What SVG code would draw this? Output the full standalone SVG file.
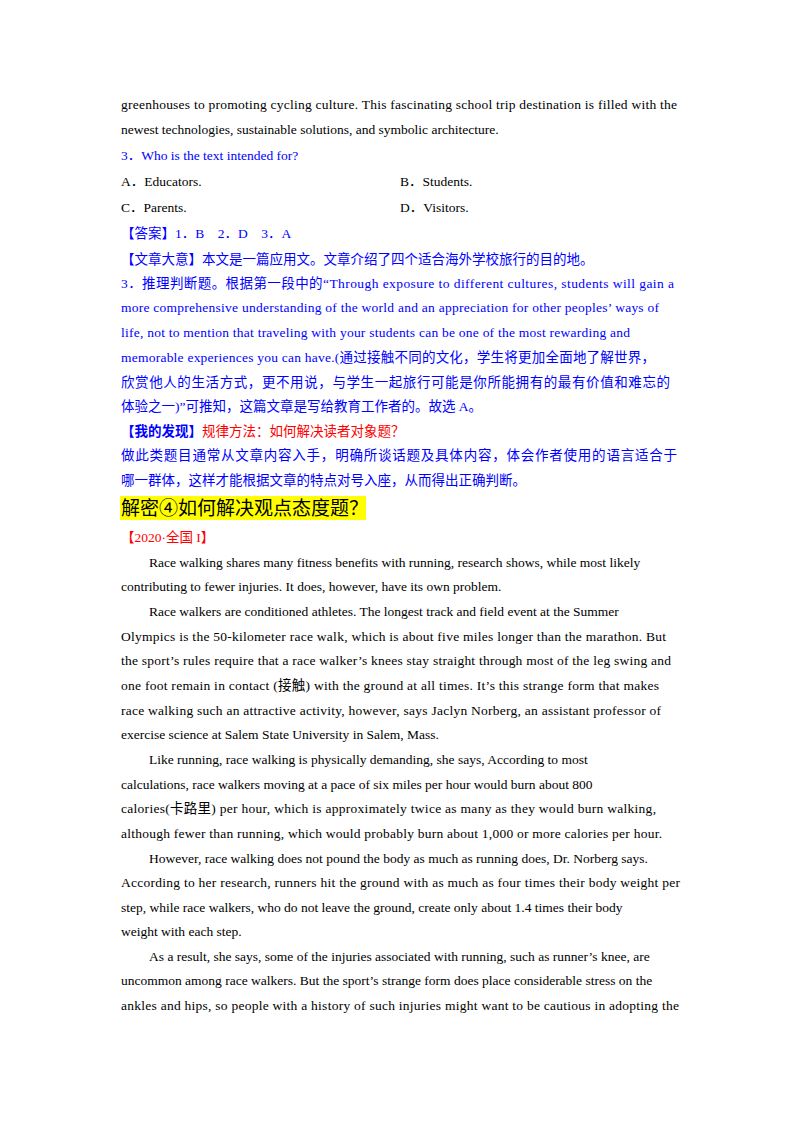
<svg xmlns="http://www.w3.org/2000/svg" width="800" height="1132" viewBox="0 0 800 1132">
<style>
text{font-family:"Liberation Serif","Noto Sans CJK SC",serif;font-size:13.5px;fill:#000}
.b{fill:#0000ff}.r{fill:#ff0000}.bb{font-weight:bold}
</style>
<rect width="800" height="1132" fill="#fff"/>
<g id="top">
<text x="121" y="109" textLength="556" lengthAdjust="spacing">greenhouses to promoting cycling culture. This fascinating school trip destination is filled with the</text>
<text x="121" y="134">newest technologies, sustainable solutions, and symbolic architecture.</text>
<text x="121" y="160" class="b">3．Who is the text intended for?</text>
<text x="121" y="186">A．Educators.</text>
<text x="400" y="186">B．Students.</text>
<text x="121" y="212">C．Parents.</text>
<text x="400" y="212">D．Visitors.</text>
</g>
<g id="answer">
<text x="121" y="238" class="b">【答案】1．B　2．D　3．A</text>
<text x="121" y="264" class="b">【文章大意】本文是一篇应用文。文章介绍了四个适合海外学校旅行的目的地。</text>
<text x="121" y="288" class="b" textLength="553" lengthAdjust="spacing">3．推理判断题。根据第一段中的“Through exposure to different cultures, students will gain a</text>
<text x="121" y="312" class="b" textLength="538" lengthAdjust="spacing">more comprehensive understanding of the world and an appreciation for other peoples’ ways of</text>
<text x="121" y="337" class="b" textLength="509" lengthAdjust="spacing">life, not to mention that traveling with your students can be one of the most rewarding and</text>
<text x="121" y="362" class="b" textLength="534" lengthAdjust="spacing">memorable experiences you can have.(通过接触不同的文化，学生将更加全面地了解世界，</text>
<text x="121" y="387" class="b" textLength="549" lengthAdjust="spacing">欣赏他人的生活方式，更不用说，与学生一起旅行可能是你所能拥有的最有价值和难忘的</text>
<text x="121" y="411" class="b">体验之一)”可推知，这篇文章是写给教育工作者的。故选 A。</text>
<text x="121" y="436"><tspan class="b bb">【我的发现】</tspan><tspan class="r">规律方法：如何解决读者对象题？</tspan></text>
<text x="121" y="460" class="b" textLength="556" lengthAdjust="spacing">做此类题目通常从文章内容入手，明确所谈话题及具体内容，体会作者使用的语言适合于</text>
<text x="121" y="485" class="b">哪一群体，这样才能根据文章的特点对号入座，从而得出正确判断。</text>
</g>
<g id="heading">
<rect x="120" y="496" width="246" height="24" fill="#ffff00"/>
<text x="121" y="515" style="font-size:19px">解密④如何解决观点态度题？</text>
</g>
<g id="passage">
<text x="121" y="542" class="r">【2020·全国 I】</text>
<text x="149" y="567">Race walking shares many fitness benefits with running, research shows, while most likely</text>
<text x="121" y="591">contributing to fewer injuries. It does, however, have its own problem.</text>
<text x="149" y="616">Race walkers are conditioned athletes. The longest track and field event at the Summer</text>
<text x="121" y="641" textLength="545" lengthAdjust="spacing">Olympics is the 50-kilometer race walk, which is about five miles longer than the marathon. But</text>
<text x="121" y="665" textLength="550" lengthAdjust="spacing">the sport’s rules require that a race walker’s knees stay straight through most of the leg swing and</text>
<text x="121" y="690" textLength="538" lengthAdjust="spacing">one foot remain in contact (接触) with the ground at all times. It’s this strange form that makes</text>
<text x="121" y="715" textLength="540" lengthAdjust="spacing">race walking such an attractive activity, however, says Jaclyn Norberg, an assistant professor of</text>
<text x="121" y="739">exercise science at Salem State University in Salem, Mass.</text>
<text x="149" y="764">Like running, race walking is physically demanding, she says, According to most</text>
<text x="121" y="789">calculations, race walkers moving at a pace of six miles per hour would burn about 800</text>
<text x="121" y="813" textLength="535" lengthAdjust="spacing">calories(卡路里) per hour, which is approximately twice as many as they would burn walking,</text>
<text x="121" y="838" textLength="541" lengthAdjust="spacing">although fewer than running, which would probably burn about 1,000 or more calories per hour.</text>
<text x="149" y="863">However, race walking does not pound the body as much as running does, Dr. Norberg says.</text>
<text x="121" y="887" textLength="559" lengthAdjust="spacing">According to her research, runners hit the ground with as much as four times their body weight per</text>
<text x="121" y="912">step, while race walkers, who do not leave the ground, create only about 1.4 times their body</text>
<text x="121" y="936">weight with each step.</text>
<text x="149" y="961">As a result, she says, some of the injuries associated with running, such as runner’s knee, are</text>
<text x="121" y="985">uncommon among race walkers. But the sport’s strange form does place considerable stress on the</text>
<text x="121" y="1010" textLength="558" lengthAdjust="spacing">ankles and hips, so people with a history of such injuries might want to be cautious in adopting the</text>
</g>
</svg>
